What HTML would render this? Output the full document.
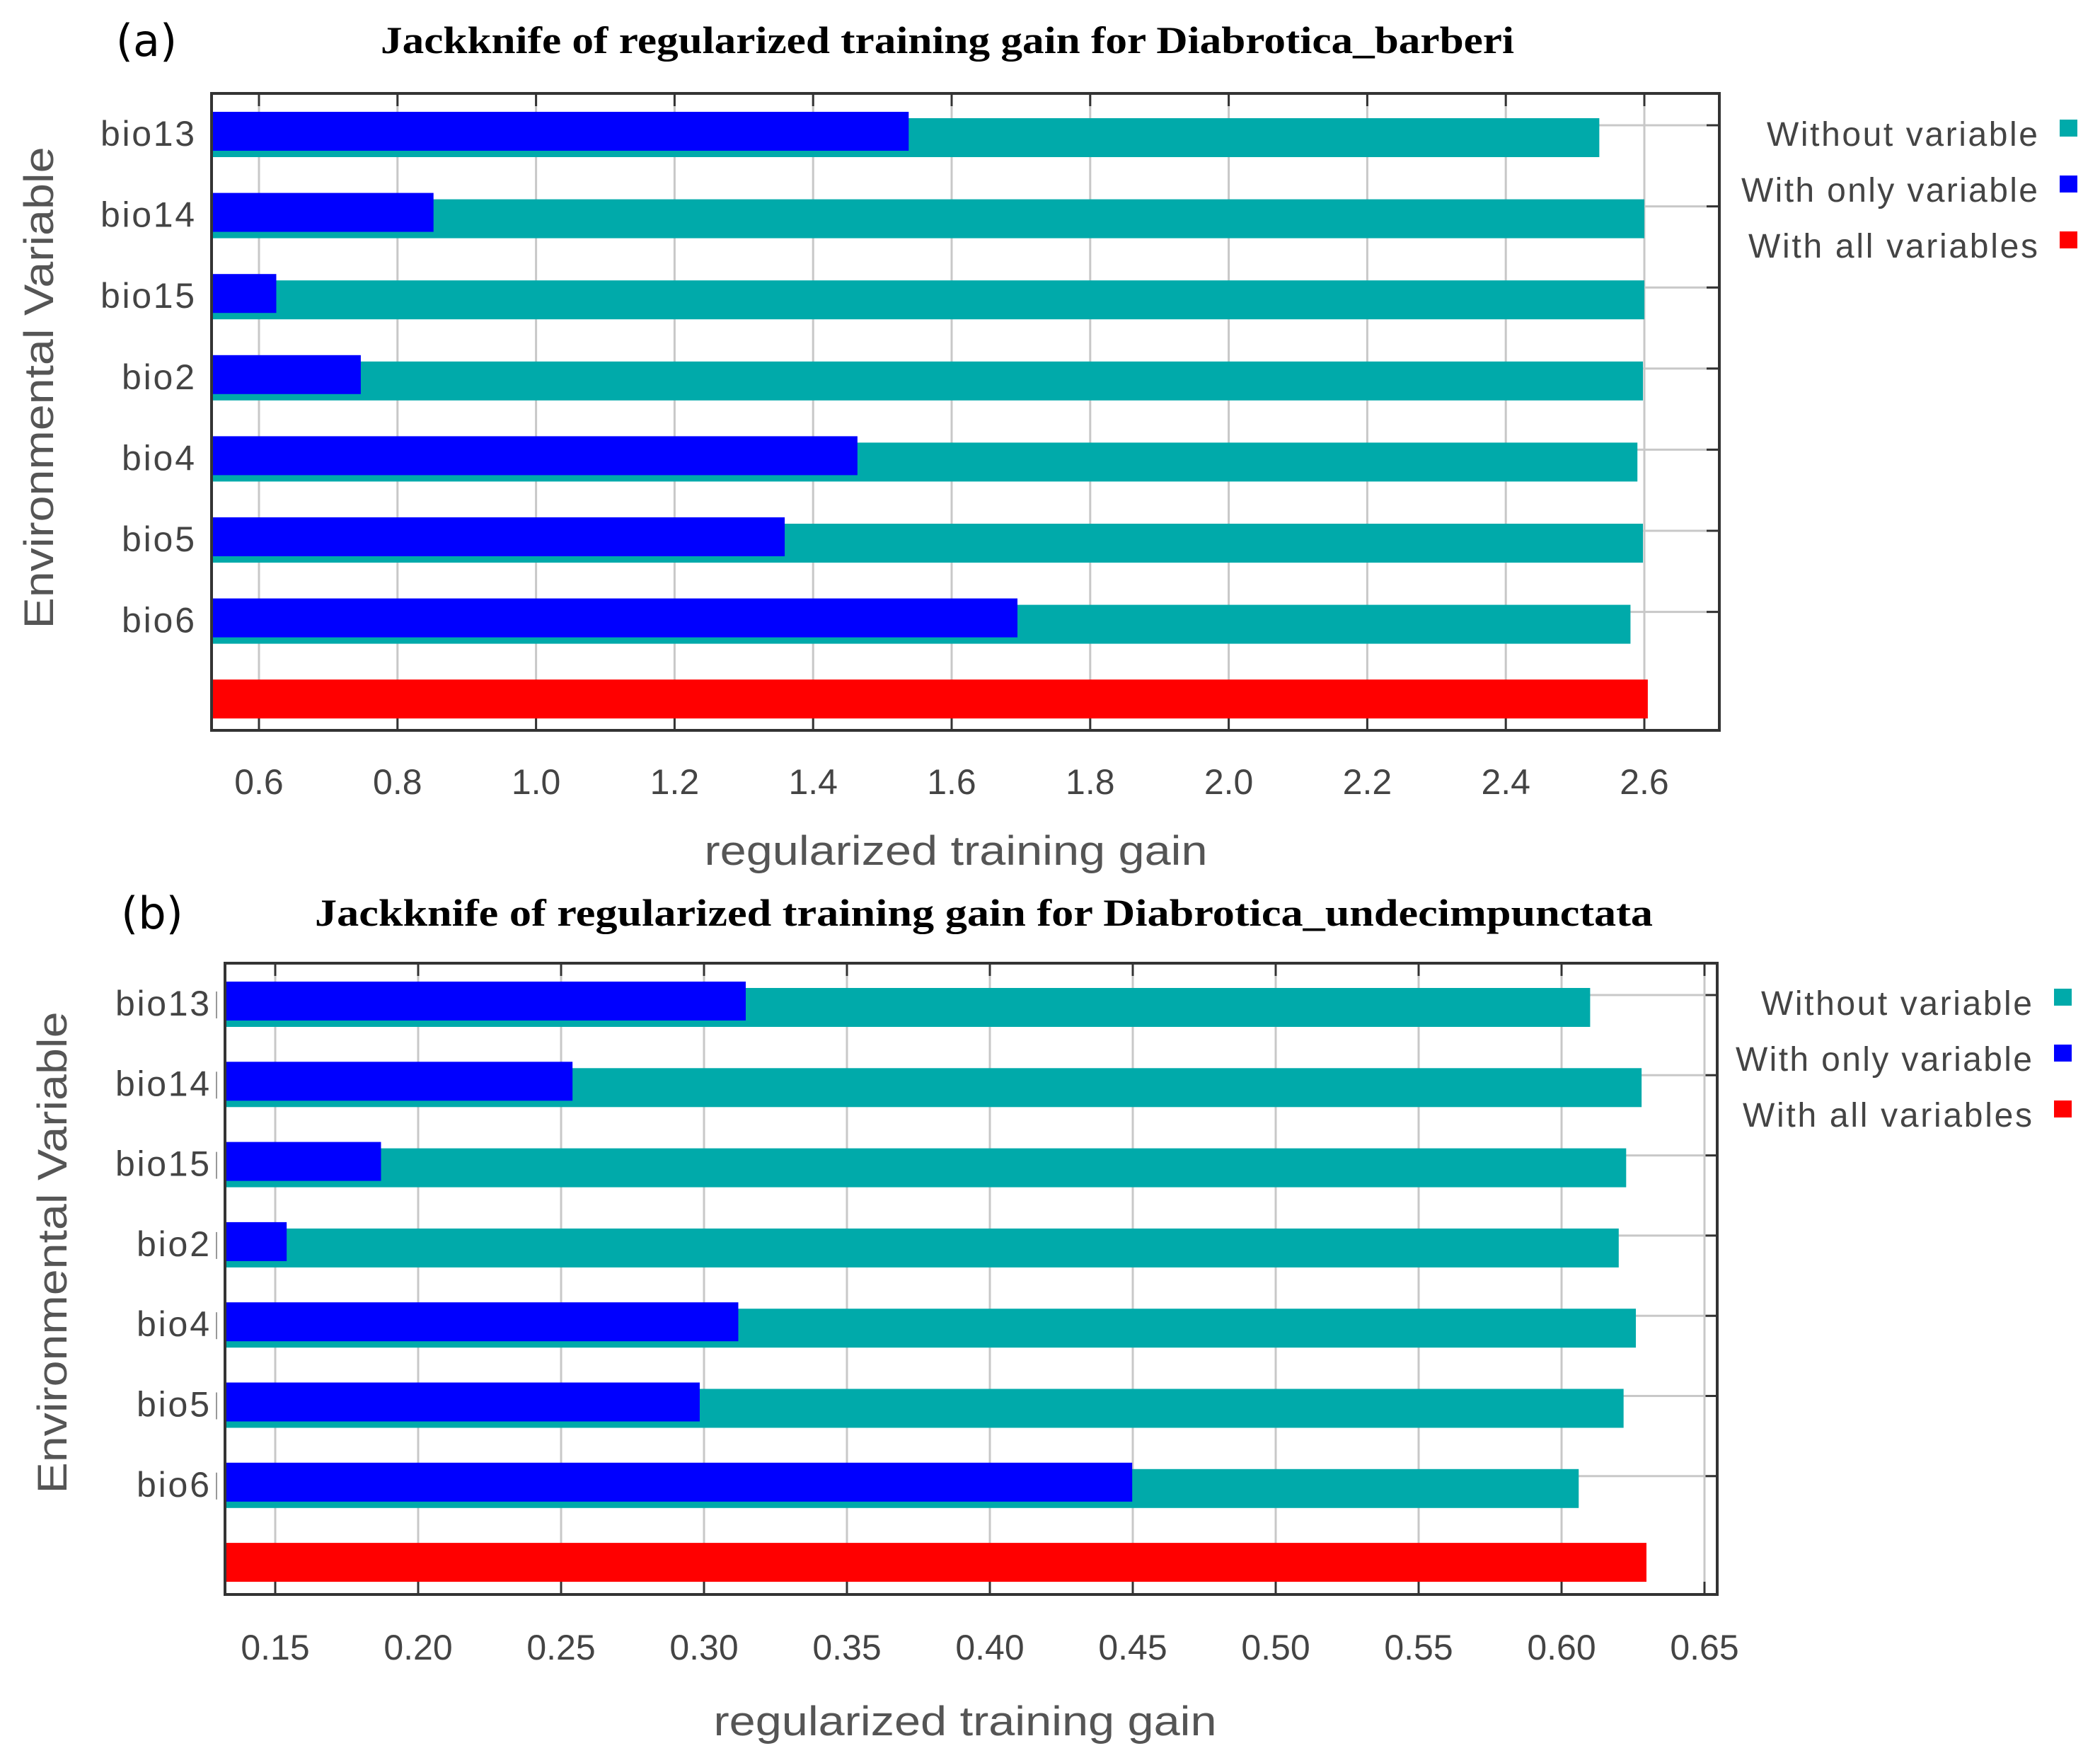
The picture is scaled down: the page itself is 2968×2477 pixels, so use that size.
<!DOCTYPE html>
<html><head><meta charset="utf-8"><style>
html,body{margin:0;padding:0;background:#fff}
svg{display:block}
</style></head><body>
<svg id="fig" width="2968" height="2477" viewBox="0 0 2968 2477" xmlns="http://www.w3.org/2000/svg"></svg>
<script>
const categories = ["bio13","bio14","bio15","bio2","bio4","bio5","bio6"];
const aWithout = [2.535,2.60,2.60,2.598,2.59,2.598,2.58];
const aOnly = [1.538,0.852,0.625,0.747,1.464,1.359,1.695];
const aAll = 2.605;
const aTicks = [0.6,0.8,1.0,1.2,1.4,1.6,1.8,2.0,2.2,2.4,2.6];
const aTickLabels = ["0.6","0.8","1.0","1.2","1.4","1.6","1.8","2.0","2.2","2.4","2.6"];
const bWithout = [0.610,0.628,0.6226,0.620,0.626,0.6217,0.606];
const bOnly = [0.3146,0.254,0.187,0.154,0.312,0.2985,0.4498];
const bAll = 0.6297;
const bTicks = [0.15,0.20,0.25,0.30,0.35,0.40,0.45,0.50,0.55,0.60,0.65];
const bTickLabels = ["0.15","0.20","0.25","0.30","0.35","0.40","0.45","0.50","0.55","0.60","0.65"];
const legendLabels = ["Without variable","With only variable","With all variables"];
const legendColors = ["#00aaaa","#0000ff","#ff0000"];

const NS="http://www.w3.org/2000/svg";
const svg=document.getElementById('fig');
function mk(tag,attrs,parent,text){const e=document.createElementNS(NS,tag);for(const k in attrs)e.setAttribute(k,attrs[k]);if(text!==undefined)e.textContent=text;(parent||svg).appendChild(e);return e;}

function panel(cfg){
  const g=mk('g',{});
  
  
  const x=v=>cfg.x0+(v-cfg.v0)*cfg.scale;
  // horizontal gridlines
  categories.forEach((c,i)=>{
    const yy=cfg.barTop+i*cfg.step+19;
    const hl=mk('line',{x1:cfg.left,x2:cfg.right,y1:yy,y2:yy,stroke:'#c8c8c8','stroke-width':3},g);
    
    
    mk('line',{x1:cfg.right-18,x2:cfg.right,y1:yy,y2:yy,stroke:'#333','stroke-width':3},g);
  });
  cfg.ticks.forEach((t,i)=>{
    const gl=mk('line',{x1:x(t),x2:x(t),y1:cfg.top,y2:cfg.bottom,stroke:'#c8c8c8','stroke-width':3},g);
    
    
    mk('line',{x1:x(t),x2:x(t),y1:cfg.top,y2:cfg.top+18,stroke:'#333','stroke-width':3},g);
    mk('line',{x1:x(t),x2:x(t),y1:cfg.bottom-18,y2:cfg.bottom,stroke:'#333','stroke-width':3},g);
    const tl=mk('text',{x:x(t),y:cfg.tickY,'text-anchor':'middle','font-family':'Liberation Sans, sans-serif','font-size':50,fill:'#444'},g,cfg.tickLabels[i]);
    
    
  });
  categories.forEach((c,i)=>{
    const by=cfg.barTop+i*cfg.step;
    const t=mk('rect',{x:cfg.left,y:by+9,width:x(cfg.without[i])-cfg.left,height:55,fill:'#00aaaa'},g);
    
    
    const b=mk('rect',{x:cfg.left,y:by,width:x(cfg.only[i])-cfg.left,height:55,fill:'#0000ff'},g);
    
    
    const lx=cfg.left-(cfg.pipe?22:24);
    const l=mk('text',{x:lx,y:by+48,'text-anchor':'end','font-family':'Liberation Sans, sans-serif','font-size':50,fill:'#444',textLength:(c.length>4?133:103),lengthAdjust:'spacing'},g,c);
    
    
    if(cfg.pipe) mk('line',{x1:cfg.left-12,x2:cfg.left-12,y1:by+14,y2:by+52,stroke:'#999','stroke-width':2},g);
  });
  const ry=cfg.barTop+7*cfg.step;
  const r=mk('rect',{x:cfg.left,y:ry,width:x(cfg.all)-cfg.left,height:55,fill:'#ff0000'},g);
  
  
  const fr=mk('rect',{x:cfg.left,y:cfg.top,width:cfg.right-cfg.left,height:cfg.bottom-cfg.top,fill:'none',stroke:'#333','stroke-width':4},g);
  
  
  const tt=mk('text',{x:cfg.titleX,y:cfg.titleY,'font-family':'Liberation Serif, serif','font-weight':'bold','font-size':54,fill:'#000',textLength:cfg.titleW,lengthAdjust:'spacingAndGlyphs'},g,cfg.title);
  
  
  const pl=mk('text',{x:cfg.labX,y:cfg.titleY+4,'text-anchor':'middle','font-family':'DejaVu Sans, sans-serif','font-size':62,fill:'#000'},g,cfg.label);
  
  
  const xt=mk('text',{x:cfg.xTitleX,y:cfg.xTitleY,'text-anchor':'middle','font-family':'Liberation Sans, sans-serif','font-size':58,fill:'#555',textLength:711,lengthAdjust:'spacingAndGlyphs'},g,'regularized training gain');
  
  
  const yt=mk('text',{x:0,y:0,'text-anchor':'middle','font-family':'Liberation Sans, sans-serif','font-size':58,fill:'#555',textLength:681,lengthAdjust:'spacingAndGlyphs',transform:`translate(${cfg.yTitleX},${cfg.yTitleY}) rotate(-90)`},g,'Environmental Variable');
  
  
  const legW=[383,419,409];
  legendLabels.forEach((L,i)=>{
    const lg=mk('g',{},g);
    
    
    mk('text',{x:cfg.legX,y:cfg.legY+i*79,'text-anchor':'end','font-family':'Liberation Sans, sans-serif','font-size':48,fill:'#444',textLength:legW[i],lengthAdjust:'spacing'},lg,L);
    mk('rect',{x:cfg.legX+31,y:cfg.legY-37+i*79,width:25,height:24,fill:legendColors[i]},lg);
  });
}

panel({id:'a',x0:366,v0:0.6,scale:979,left:299,right:2430,top:132,bottom:1032,barTop:158,step:114.6,
  ticks:aTicks,tickLabels:aTickLabels,tickY:1122,without:aWithout,only:aOnly,all:aAll,pipe:false,
  title:'Jackknife of regularized training gain for Diabrotica_barberi',titleX:538,titleY:75,titleW:1602,
  label:'(a)',labX:207,xTitleX:1351,xTitleY:1222,yTitleX:75,yTitleY:548,legX:2880,legY:206});
panel({id:'b',x0:389,v0:0.15,scale:4040,left:318,right:2427,top:1361,bottom:2253,barTop:1387,step:113.3,
  ticks:bTicks,tickLabels:bTickLabels,tickY:2345,without:bWithout,only:bOnly,all:bAll,pipe:true,
  title:'Jackknife of regularized training gain for Diabrotica_undecimpunctata',titleX:445,titleY:1308,titleW:1891,
  label:'(b)',labX:215,xTitleX:1364,xTitleY:2452,yTitleX:94,yTitleY:1770,legX:2872,legY:1434});
</script>
</body></html>
